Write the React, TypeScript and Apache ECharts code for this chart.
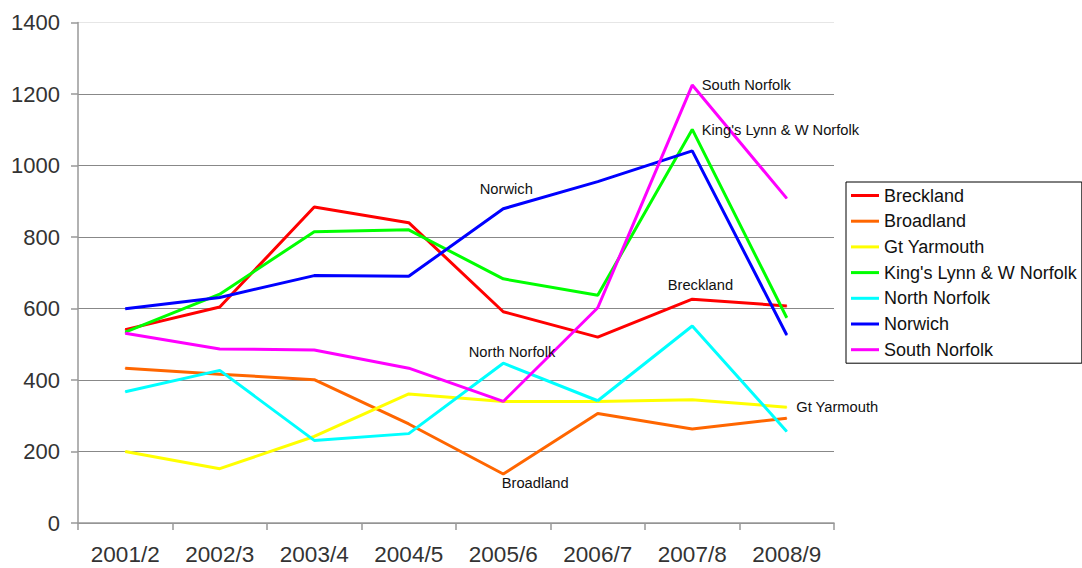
import React, { useEffect, useRef } from "react";
import * as echarts from "echarts";

const categories = ["2001/2", "2002/3", "2003/4", "2004/5", "2005/6", "2006/7", "2007/8", "2008/9"];

const breckland = [541, 604, 884, 840, 591, 520, 626, 607];
const broadland = [433, 416, 401, 277, 137, 306, 263, 293];
const gtYarmouth = [200, 152, 242, 361, 340, 340, 345, 324];
const kingsLynn = [534, 640, 815, 820, 683, 637, 1101, 574];
const northNorfolk = [367, 427, 231, 250, 447, 342, 551, 256];
const norwich = [599, 631, 692, 690, 879, 955, 1041, 526];
const southNorfolk = [531, 487, 484, 433, 340, 602, 1225, 908];

const seriesNames = [
  "Breckland",
  "Broadland",
  "Gt Yarmouth",
  "King's Lynn & W Norfolk",
  "North Norfolk",
  "Norwich",
  "South Norfolk",
];
const seriesValues = [breckland, broadland, gtYarmouth, kingsLynn, northNorfolk, norwich, southNorfolk];
const seriesColors = ["#ff0000", "#ff6600", "#ffff00", "#00ff00", "#00ffff", "#0000ff", "#ff00ff"];

// annotation: which point of which series carries the name label, and label offset
const annotationIndex = [6, 4, 7, 6, 4, 4, 6];
const annotationOffset: [number, number][] = [
  [-24, -14],
  [-1, 9],
  [10, 0],
  [10, 1],
  [-34, -11],
  [-23, -19],
  [10, 0],
];

const FONT = "'Liberation Sans', Arial, sans-serif";

export default function App() {
  const ref = useRef<HTMLDivElement>(null);
  useEffect(() => {
    if (!ref.current) return;
    const chart = echarts.init(ref.current, null, { renderer: "svg" });
    const series = seriesNames.map((name, si) => ({
      name,
      type: "line",
      symbol: "circle",
      symbolSize: 1,
      showSymbol: true,
      color: seriesColors[si],
      lineStyle: { width: 3, color: seriesColors[si] },
      itemStyle: { color: seriesColors[si] },
      emphasis: { disabled: true },
      silent: true,
      label: { show: false },
      data: seriesValues[si].map((v, i) =>
        i === annotationIndex[si]
          ? {
              value: v,
              label: {
                show: true,
                formatter: name,
                position: annotationOffset[si],
                align: "left",
                verticalAlign: "middle",
                fontSize: 14.7,
                fontFamily: FONT,
                color: "#111",
              },
            }
          : v
      ),
    }));
    chart.setOption({
      animation: false,
      backgroundColor: "#ffffff",
      grid: { left: 78, right: 248, top: 22.5, bottom: 45, containLabel: false },
      legend: {
        orient: "vertical",
        left: 846,
        top: 182,
        data: seriesNames,
        icon: "rect",
        itemWidth: 28,
        itemHeight: 3,
        itemGap: 7.7,
        padding: [4.5, 5, 4.5, 5],
        borderColor: "#000",
        borderWidth: 1,
        selectedMode: false,
        textStyle: { fontSize: 18, fontFamily: FONT, color: "#111" },
      },
      xAxis: {
        type: "category",
        data: categories,
        boundaryGap: true,
        axisLine: { lineStyle: { color: "#999", width: 1.5 } },
        axisTick: { show: true, length: 7, lineStyle: { color: "#999", width: 1.5 } },
        axisLabel: { fontSize: 22.5, fontFamily: FONT, color: "#333", margin: 20 },
        splitLine: { show: false },
      },
      yAxis: {
        type: "value",
        min: 0,
        max: 1400,
        interval: 200,
        axisLine: { show: true, lineStyle: { color: "#999", width: 1.5 } },
        axisTick: { show: true, length: 7, lineStyle: { color: "#999", width: 1.5 } },
        axisLabel: {
          fontSize: 22,
          fontFamily: FONT,
          color: "#333",
          margin: 18,
          formatter: (v: number) => String(v),
        },
        splitLine: {
          show: true,
          lineStyle: {
            color: ["#888", "#888", "#888", "#888", "#888", "#888", "#888", "#e6e6e6"],
            width: 1.2,
          },
        },
      },
      series,
    });
    return () => chart.dispose();
  }, []);
  return (
    <div
      ref={ref}
      style={{ position: "fixed", left: 0, top: 0, width: 1082, height: 568 }}
    />
  );
}
